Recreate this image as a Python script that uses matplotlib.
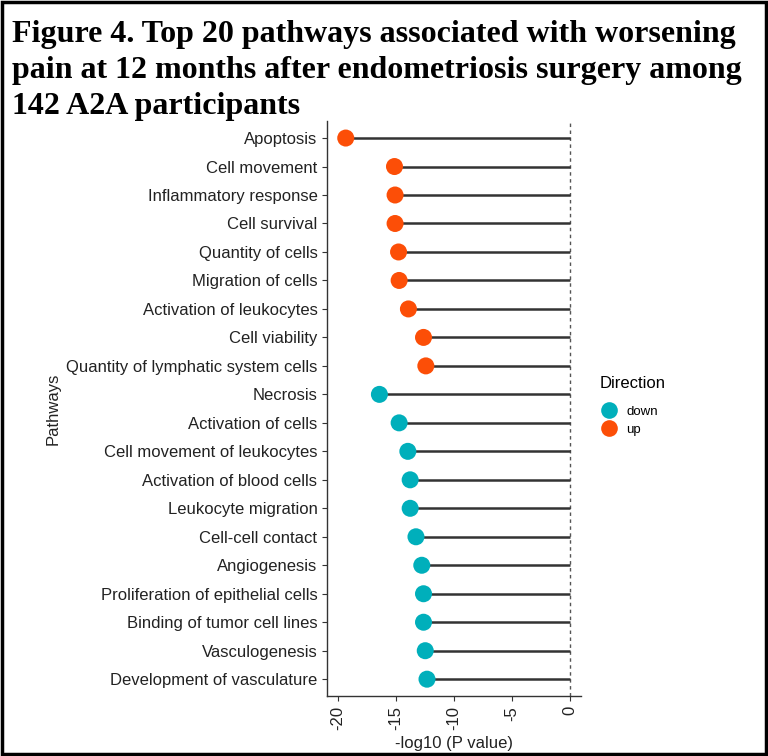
import numpy as np
import matplotlib.pyplot as plt
from matplotlib.patches import Rectangle
from matplotlib.lines import Line2D

pathways = ["Apoptosis", "Cell movement", "Inflammatory response", "Cell survival",
            "Quantity of cells", "Migration of cells", "Activation of leukocytes",
            "Cell viability", "Quantity of lymphatic system cells", "Necrosis",
            "Activation of cells", "Cell movement of leukocytes", "Activation of blood cells",
            "Leukocyte migration", "Cell-cell contact", "Angiogenesis",
            "Proliferation of epithelial cells", "Binding of tumor cell lines",
            "Vasculogenesis", "Development of vasculature"]
logp = [-19.3, -15.1, -15.05, -15.05, -14.75, -14.7, -13.9, -12.6, -12.4, -16.4,
        -14.7, -13.95, -13.75, -13.75, -13.25, -12.75, -12.6, -12.6, -12.45, -12.3]
direction = ["up"] * 9 + ["down"] * 11
colors = {"down": "#00AFBB", "up": "#FC4E07"}

plt.rcParams['font.family'] = ['Liberation Sans', 'DejaVu Sans']

fig = plt.figure(figsize=(7.68, 7.56), dpi=100)
ax = fig.add_axes([0.426, 0.079, 0.331, 0.761])

n = len(pathways)
y = np.arange(n, 0, -1)   # first pathway on top

ax.axvline(0, color='#555555', lw=1, ls=(0, (2.5, 2.5)), zorder=1)
ax.hlines(y, logp, 0, color='#333333', lw=1.8, zorder=2)
for d in ["down", "up"]:
    idx = [i for i, v in enumerate(direction) if v == d]
    ax.scatter([logp[i] for i in idx], y[idx], s=150, color=colors[d],
               edgecolors='none', zorder=3)

ax.set_xlim(-20.9, 1.0)
ax.set_ylim(0.4, n + 0.6)
ax.set_xticks([-20, -15, -10, -5, 0])
ax.set_xticklabels(["-20", "-15", "-10", "-5", "0"], rotation=90)
ax.set_yticks(y)
ax.set_yticklabels(pathways)
ax.tick_params(axis='both', labelsize=12, labelcolor='#222222', color='#333333',
               length=3.5, width=0.8)
for s in ['top', 'right']:
    ax.spines[s].set_visible(False)
for s in ['left', 'bottom']:
    ax.spines[s].set_color('#333333')
    ax.spines[s].set_linewidth(1.0)

ax.set_xlabel("-log10 (P value)", fontsize=12, color='#222222', labelpad=4)
ax.set_ylabel("Pathways", fontsize=12, color='#222222', labelpad=4)

handles = [Line2D([], [], marker='o', ls='none', markersize=12,
                  markerfacecolor=colors[d], markeredgecolor='none') for d in ["down", "up"]]
leg = fig.legend(handles, ["down", "up"], title="Direction", loc='upper left',
                 bbox_to_anchor=(0.781, 0.502), frameon=False, fontsize=9.5,
                 title_fontsize=12, handletextpad=0.6, labelspacing=0.45,
                 borderaxespad=0, borderpad=0, handlelength=1.4)
leg._legend_box.align = "left"
leg._legend_box.sep = 10   # gap between title and keys

fig.text(0.016, 0.974,
         "Figure 4. Top 20 pathways associated with worsening\n"
         "pain at 12 months after endometriosis surgery among\n"
         "142 A2A participants",
         fontsize=23, fontweight='bold', family='Liberation Serif',
         va='top', ha='left', linespacing=1.32)

fig.patches.append(Rectangle((0.002, 0.002), 0.996, 0.996, transform=fig.transFigure,
                             fill=False, edgecolor='black', lw=2.5))

fig.savefig("out.png", dpi=100)
